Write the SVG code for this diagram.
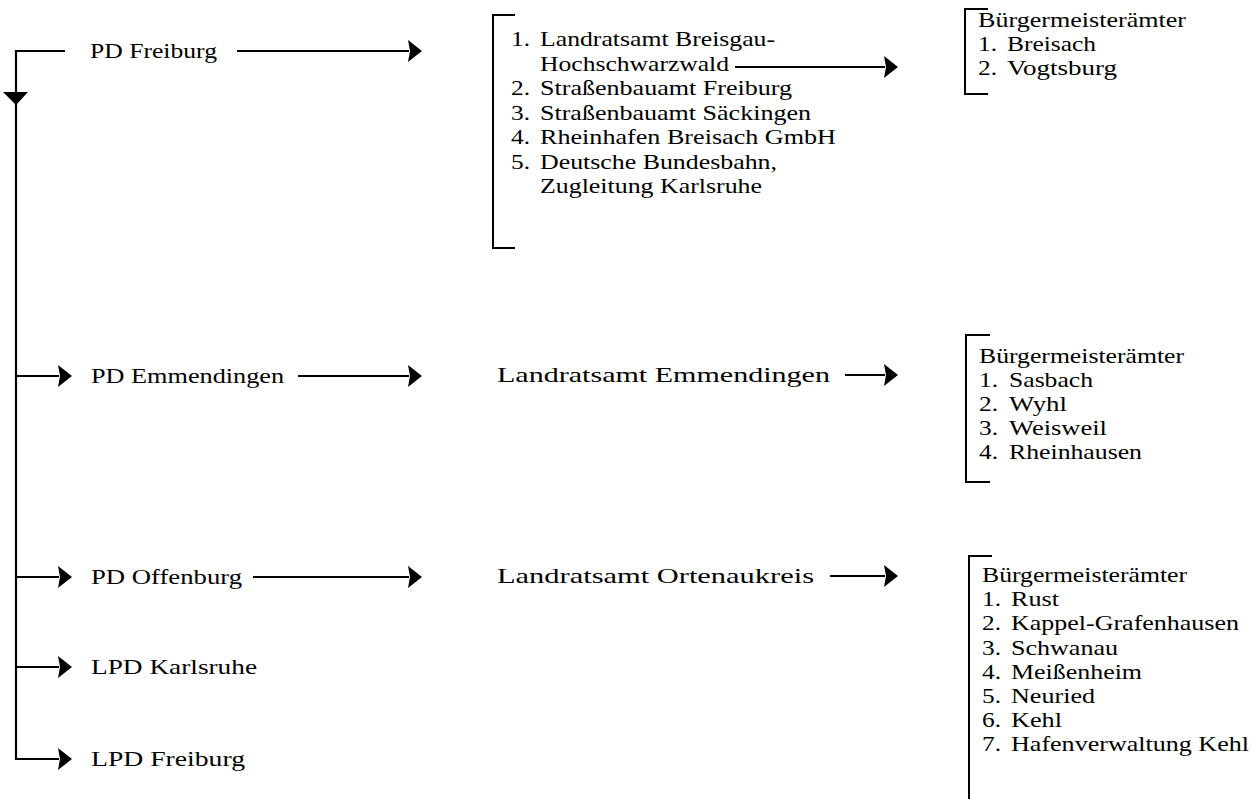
<svg xmlns="http://www.w3.org/2000/svg" width="1253" height="799" viewBox="0 0 1253 799">
<style>
  text { font-family: "Liberation Serif", "Times New Roman", serif; font-size: 21.5px; fill: #000; }
  .ln { fill: none; stroke: #000; stroke-width: 2.2; }
  .br { fill: none; stroke: #000; stroke-width: 2; }
</style>
<defs>
  <marker id="ah" markerUnits="userSpaceOnUse" markerWidth="14" markerHeight="22" viewBox="0 0 14 22" refX="1" refY="11" orient="auto">
    <path d="M0,0 L14,11 L0,22 L2,11 Z" fill="#000"/>
  </marker>
</defs>
<rect width="1253" height="799" fill="#fff"/>

<g id="connectors">
  <path class="ln" d="M65,51 H16 V759 H59" marker-end="url(#ah)"/>
  <polygon points="3,92 28,92 16,105" fill="#000"/>
  <path class="ln" d="M16,376 H59" marker-end="url(#ah)"/>
  <path class="ln" d="M16,577 H59" marker-end="url(#ah)"/>
  <path class="ln" d="M16,667 H59" marker-end="url(#ah)"/>
  <path class="ln" d="M237,51 H409" marker-end="url(#ah)"/>
  <path class="ln" d="M298,376 H409" marker-end="url(#ah)"/>
  <path class="ln" d="M253,577 H409" marker-end="url(#ah)"/>
  <path class="ln" d="M735,67 H885" marker-end="url(#ah)"/>
  <path class="ln" d="M845,375 H885" marker-end="url(#ah)"/>
  <path class="ln" d="M830,576 H885" marker-end="url(#ah)"/>
</g>

<g id="pd-freiburg"><text x="90" y="58" textLength="127" lengthAdjust="spacingAndGlyphs">PD Freiburg</text></g>
<g id="pd-emmendingen"><text x="91" y="383" textLength="193" lengthAdjust="spacingAndGlyphs">PD Emmendingen</text></g>
<g id="pd-offenburg"><text x="91" y="584" textLength="151" lengthAdjust="spacingAndGlyphs">PD Offenburg</text></g>
<g id="lpd-karlsruhe"><text x="91" y="674" textLength="166" lengthAdjust="spacingAndGlyphs">LPD Karlsruhe</text></g>
<g id="lpd-freiburg"><text x="91" y="766" textLength="154" lengthAdjust="spacingAndGlyphs">LPD Freiburg</text></g>

<g id="list-freiburg">
  <path class="br" d="M515,15 H493 V248 H515"/>
  <text x="511" y="46" textLength="19" lengthAdjust="spacingAndGlyphs">1.</text>
  <text x="540" y="46" textLength="235" lengthAdjust="spacingAndGlyphs">Landratsamt Breisgau-</text>
  <text x="540" y="70.5" textLength="189" lengthAdjust="spacingAndGlyphs">Hochschwarzwald</text>
  <text x="511" y="95" textLength="19" lengthAdjust="spacingAndGlyphs">2.</text>
  <text x="540" y="95" textLength="252" lengthAdjust="spacingAndGlyphs">Straßenbauamt Freiburg</text>
  <text x="511" y="119.5" textLength="19" lengthAdjust="spacingAndGlyphs">3.</text>
  <text x="540" y="119.5" textLength="271" lengthAdjust="spacingAndGlyphs">Straßenbauamt Säckingen</text>
  <text x="511" y="144" textLength="19" lengthAdjust="spacingAndGlyphs">4.</text>
  <text x="540" y="144" textLength="296" lengthAdjust="spacingAndGlyphs">Rheinhafen Breisach GmbH</text>
  <text x="511" y="168.5" textLength="19" lengthAdjust="spacingAndGlyphs">5.</text>
  <text x="540" y="168.5" textLength="237" lengthAdjust="spacingAndGlyphs">Deutsche Bundesbahn,</text>
  <text x="540" y="193" textLength="222" lengthAdjust="spacingAndGlyphs">Zugleitung Karlsruhe</text>
</g>

<g id="la-emmendingen"><text x="497" y="382" textLength="333" lengthAdjust="spacingAndGlyphs">Landratsamt Emmendingen</text></g>
<g id="la-ortenaukreis"><text x="497" y="583" textLength="317" lengthAdjust="spacingAndGlyphs">Landratsamt Ortenaukreis</text></g>

<g id="bm-1">
  <path class="br" d="M988,9 H965 V94 H988"/>
  <text x="978" y="27" textLength="208" lengthAdjust="spacingAndGlyphs">Bürgermeisterämter</text>
  <text x="978" y="51" textLength="19" lengthAdjust="spacingAndGlyphs">1.</text>
  <text x="1007" y="51" textLength="89" lengthAdjust="spacingAndGlyphs">Breisach</text>
  <text x="978" y="75" textLength="19" lengthAdjust="spacingAndGlyphs">2.</text>
  <text x="1007" y="75" textLength="110" lengthAdjust="spacingAndGlyphs">Vogtsburg</text>
</g>

<g id="bm-2">
  <path class="br" d="M990,335 H966 V482 H990"/>
  <text x="979" y="363" textLength="205" lengthAdjust="spacingAndGlyphs">Bürgermeisterämter</text>
  <text x="979" y="387" textLength="19" lengthAdjust="spacingAndGlyphs">1.</text>
  <text x="1009" y="387" textLength="84" lengthAdjust="spacingAndGlyphs">Sasbach</text>
  <text x="979" y="411" textLength="19" lengthAdjust="spacingAndGlyphs">2.</text>
  <text x="1009" y="411" textLength="58" lengthAdjust="spacingAndGlyphs">Wyhl</text>
  <text x="979" y="435" textLength="19" lengthAdjust="spacingAndGlyphs">3.</text>
  <text x="1009" y="435" textLength="98" lengthAdjust="spacingAndGlyphs">Weisweil</text>
  <text x="979" y="459" textLength="19" lengthAdjust="spacingAndGlyphs">4.</text>
  <text x="1009" y="459" textLength="133" lengthAdjust="spacingAndGlyphs">Rheinhausen</text>
</g>

<g id="bm-3">
  <path class="br" d="M992,556 H969 V799"/>
  <text x="982" y="582" textLength="205" lengthAdjust="spacingAndGlyphs">Bürgermeisterämter</text>
  <text x="982" y="606.2" textLength="19" lengthAdjust="spacingAndGlyphs">1.</text>
  <text x="1011" y="606.2" textLength="48" lengthAdjust="spacingAndGlyphs">Rust</text>
  <text x="982" y="630.4" textLength="19" lengthAdjust="spacingAndGlyphs">2.</text>
  <text x="1011" y="630.4" textLength="228" lengthAdjust="spacingAndGlyphs">Kappel-Grafenhausen</text>
  <text x="982" y="654.6" textLength="19" lengthAdjust="spacingAndGlyphs">3.</text>
  <text x="1011" y="654.6" textLength="107" lengthAdjust="spacingAndGlyphs">Schwanau</text>
  <text x="982" y="678.8" textLength="19" lengthAdjust="spacingAndGlyphs">4.</text>
  <text x="1011" y="678.8" textLength="131" lengthAdjust="spacingAndGlyphs">Meißenheim</text>
  <text x="982" y="703" textLength="19" lengthAdjust="spacingAndGlyphs">5.</text>
  <text x="1011" y="703" textLength="84" lengthAdjust="spacingAndGlyphs">Neuried</text>
  <text x="982" y="727.2" textLength="19" lengthAdjust="spacingAndGlyphs">6.</text>
  <text x="1011" y="727.2" textLength="51" lengthAdjust="spacingAndGlyphs">Kehl</text>
  <text x="982" y="751.4" textLength="19" lengthAdjust="spacingAndGlyphs">7.</text>
  <text x="1011" y="751.4" textLength="238" lengthAdjust="spacingAndGlyphs">Hafenverwaltung Kehl</text>
</g>
</svg>
